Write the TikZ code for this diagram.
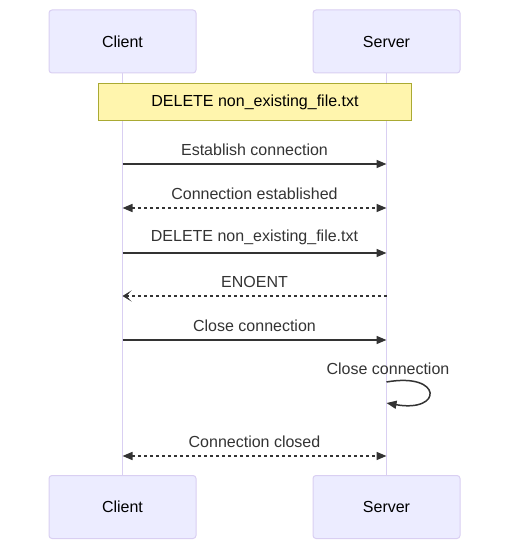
\documentclass[tikz,border=0pt]{standalone}
\usepackage{fontspec}
\setmainfont{Liberation Sans}
\usetikzlibrary{arrows.meta}
\definecolor{actfill}{HTML}{ECECFF}
\definecolor{actline}{HTML}{D9CFF2}
\definecolor{notefill}{HTML}{FFF5AD}
\definecolor{noteline}{HTML}{AAAA33}
\definecolor{msg}{HTML}{333333}
\tikzset{
  actor/.style={draw=actline, fill=actfill, line width=1pt, rounded corners=3pt,
    minimum width=147pt, minimum height=63pt, inner sep=0pt, text=black,
    font=\fontsize{16}{19}\selectfont},
  lifeline/.style={draw=actline, line width=1.5pt},
  notebox/.style={draw=noteline, fill=notefill, line width=1pt,
    minimum width=313pt, minimum height=37pt, inner sep=0pt, text=black,
    font=\fontsize{16}{19}\selectfont},
  msgtext/.style={text=msg, font=\fontsize{16}{19}\selectfont, inner sep=0pt},
  solidmsg/.style={draw=msg, line width=1.5pt, -{Triangle[length=10pt,width=8pt]}},
  dashmsg/.style={draw=msg, line width=1.5pt, dash pattern=on 3pt off 3pt},
  bothtips/.style={{Triangle[length=10pt,width=8pt]}-{Triangle[length=10pt,width=8pt]}},
  opentip/.style={-{Stealth[length=9pt,width=11pt,inset=5pt]}},
}
\begin{document}
\begin{tikzpicture}[x=1pt,y=-1pt]
\useasboundingbox (0,0) rectangle (519,559);
% actors
\node[actor] (ct) at (122.5,41.5) {Client};
\node[actor] (st) at (386.5,41.5) {Server};
\node[actor] (cb) at (122.5,507) {Client};
\node[actor] (sb) at (386.5,507) {Server};
% lifelines
\draw[lifeline] (ct.south) -- (cb.north);
\draw[lifeline] (st.south) -- (sb.north);
% note
\node[notebox] (note) at (255,102) {DELETE non\_existing\_file.txt};
% message anchor coordinates
\coordinate (c1) at (122.5,164); \coordinate (s1) at (386.5,164);
\coordinate (c2) at (122.5,208); \coordinate (s2) at (386.5,208);
\coordinate (c3) at (122.5,253); \coordinate (s3) at (386.5,253);
\coordinate (c4) at (122.5,296); \coordinate (s4) at (386.5,296);
\coordinate (c5) at (122.5,340); \coordinate (s5) at (386.5,340);
\coordinate (l1) at (386.5,382); \coordinate (l2) at (386.5,403);
\coordinate (c6) at (122.5,456); \coordinate (s6) at (386.5,456);
% messages
\draw[solidmsg] (c1) -- (s1);
\node[msgtext] (m1) at (254.5,150) {Establish connection};
\draw[dashmsg, bothtips] (c2) -- (s2);
\node[msgtext] (m2) at (254.5,193.5) {Connection established};
\draw[solidmsg] (c3) -- (s3);
\node[msgtext] (m3) at (254.5,237) {DELETE non\_existing\_file.txt};
\draw[dashmsg, opentip] (s4) -- (c4);
\node[msgtext] (m4) at (254.5,282) {ENOENT};
\draw[solidmsg] (c5) -- (s5);
\node[msgtext] (m5) at (254.5,325.5) {Close connection};
\node[msgtext] (m6) at (388,368.5) {Close connection};
\draw[solidmsg] (l1) .. controls (443,372) and (443,413) .. (l2);
\draw[dashmsg, bothtips] (c6) -- (s6);
\node[msgtext] (m7) at (254.5,441.5) {Connection closed};
\end{tikzpicture}
\end{document}
